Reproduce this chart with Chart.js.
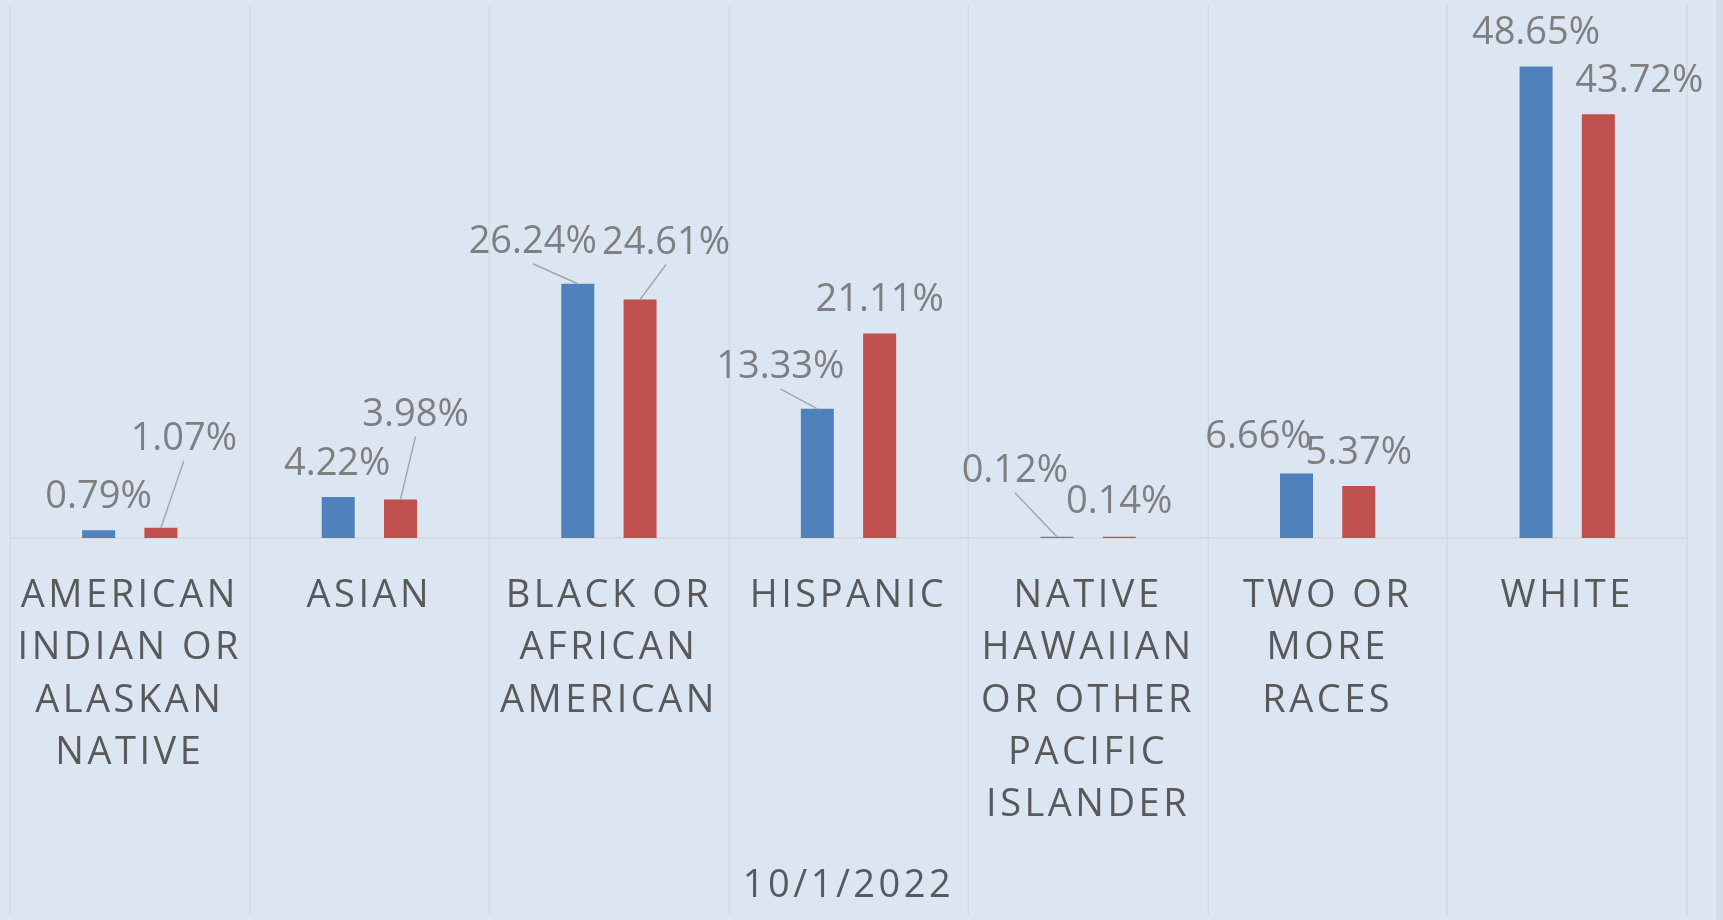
<!DOCTYPE html>
<html>
<head>
<meta charset="utf-8">
<script src="https://cdn.jsdelivr.net/npm/chart.js@4.4.0/dist/chart.umd.min.js"></script>
<style>
  html, body { margin: 0; padding: 0; background: #d3dce7; overflow: hidden; }
  #wrap { width: 1716px; height: 920px; background: #dce6f2; }
</style>
</head>
<body>
<div id="wrap"><canvas id="chart" width="1716" height="920"></canvas></div>
<script>

/***** DATA *****/

const categories = [
  ['AMERICAN', 'INDIAN OR', 'ALASKAN', 'NATIVE'],
  ['ASIAN'],
  ['BLACK OR', 'AFRICAN', 'AMERICAN'],
  ['HISPANIC'],
  ['NATIVE', 'HAWAIIAN', 'OR OTHER', 'PACIFIC', 'ISLANDER'],
  ['TWO OR', 'MORE', 'RACES'],
  ['WHITE']
]
const seriesBlue = [0.79, 4.22, 26.24, 13.33, 0.12, 6.66, 48.65]
const seriesRed = [1.07, 3.98, 24.61, 21.11, 0.14, 5.37, 43.72]
const axisTitle = '10/1/2022'

// label nudges (px from bar top) and leader-line flags, like the moved labels in the original
const blueLabelDx = [0, -1, -45, -37, -42, -38, 0]
const blueLabelDy = [-36, -36, -44, -44, -68, -39, -36]
const blueLeader = [false, false, true, true, true, false, false]
const redLabelDx = [23, 15, 26, 0, 0, 0, 41]
const redLabelDy = [-91, -87, -59, -36, -37, -35, -36]
const redLeader = [true, true, true, false, false, false, false]

/***** STYLE *****/

const FONT = "'Open Sans', 'Liberation Sans', sans-serif"
const GRID = '#d5dae0'

/***** LETTER SPACING for the axis text (Excel spreads these out) *****/

const spacing = {
  id: 'spacing',
  beforeDraw: (chart) => {
    chart.ctx.letterSpacing = '3.5px'
  },
  beforeDatasetsDraw: (chart) => {
    chart.ctx.letterSpacing = '0px'
  }
}

/***** CATEGORY DIVIDERS (run down through the label area) *****/

const dividers = {
  id: 'dividers',
  beforeDatasetsDraw: (chart) => {
    const ctx = chart.ctx
    const xs = chart.scales.x
    ctx.save()
    ctx.strokeStyle = GRID
    ctx.lineWidth = 1.5
    for (let i = 0; i <= chart.data.labels.length; i++) {
      const x = Math.round(xs.getPixelForValue(i - 0.5)) + 0.25
      ctx.beginPath()
      ctx.moveTo(x, chart.chartArea.top)
      ctx.lineTo(x, xs.bottom + 6)
      ctx.stroke()
    }
    ctx.restore()
  }
}

/***** DATA LABELS *****/

const barLabels = {
  id: 'barLabels',
  afterDatasetsDraw: (chart) => {
    const ctx = chart.ctx
    const nudges = [
      {dx: blueLabelDx, dy: blueLabelDy, leader: blueLeader},
      {dx: redLabelDx, dy: redLabelDy, leader: redLeader}
    ]
    ctx.save()
    ctx.letterSpacing = '0px'
    ctx.font = '38px ' + FONT
    ctx.textAlign = 'center'
    ctx.textBaseline = 'alphabetic'
    chart.data.datasets.forEach((ds, di) => {
      const meta = chart.getDatasetMeta(di)
      meta.data.forEach((bar, i) => {
        const lx = bar.x + nudges[di].dx[i]
        const ly = bar.y + nudges[di].dy[i]
        if (nudges[di].leader[i]) {
          ctx.strokeStyle = '#a6a6a6'
          ctx.lineWidth = 1.5
          ctx.beginPath()
          ctx.moveTo(lx, ly + 24)
          ctx.lineTo(bar.x, bar.y)
          ctx.stroke()
        }
        ctx.fillStyle = '#7f7f7f'
        // ly is the visual middle of the digits
        ctx.fillText(ds.data[i].toFixed(2) + '%', lx, ly + 13.5)
      })
    })
    ctx.restore()
  }
}

/***** CHART *****/

new Chart(document.getElementById('chart'), {
  type: 'bar',
  data: {
    labels: categories,
    datasets: [
      {label: 'Series 1', data: seriesBlue, backgroundColor: '#4f81bd', barPercentage: 0.53, categoryPercentage: 0.52},
      {label: 'Series 2', data: seriesRed, backgroundColor: '#c0504d', barPercentage: 0.53, categoryPercentage: 0.52}
    ]
  },
  options: {
    responsive: false,
    animation: false,
    layout: {padding: {left: 10, right: 29, top: 5, bottom: 11}},
    plugins: {legend: {display: false}, tooltip: {enabled: false}},
    scales: {
      x: {
        grid: {display: false, drawTicks: false},
        border: {display: true, color: '#d9d9d9', width: 2},
        ticks: {
          font: {family: FONT, size: 38, lineHeight: 1.38},
          color: '#595959',
          padding: 31.6,
          maxRotation: 0,
          autoSkip: false
        },
        title: {
          display: true,
          text: axisTitle,
          font: {family: FONT, size: 38, lineHeight: 1.2},
          color: '#595959',
          padding: {top: 0, bottom: 0}
        }
      },
      y: {display: false, min: 0, max: 55}
    }
  },
  plugins: [spacing, dividers, barLabels]
})
</script>
</body>
</html>
